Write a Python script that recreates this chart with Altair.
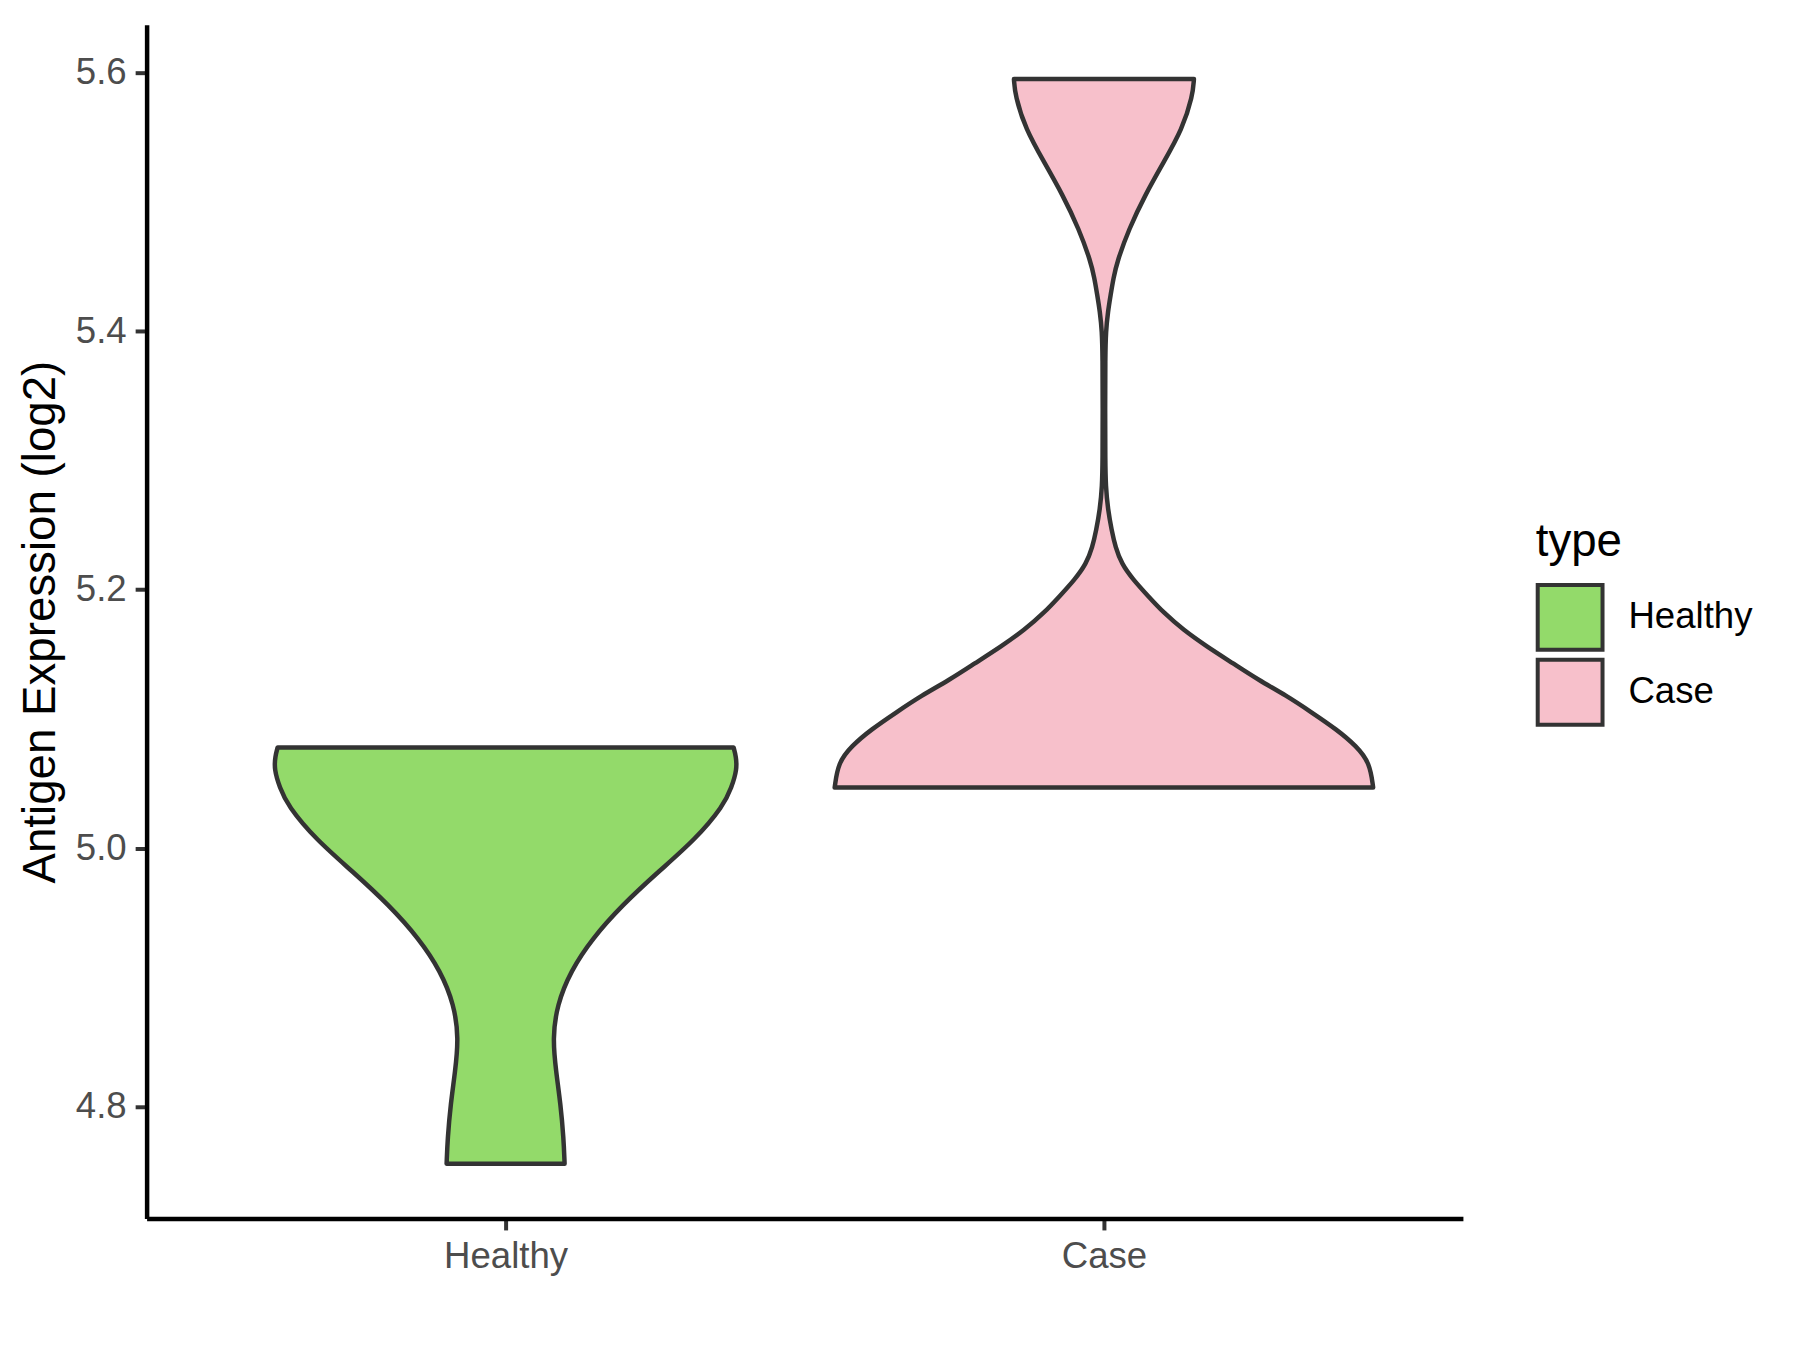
import altair as alt
import pandas as pd

# categories and colours
groups = ["Healthy", "Case"]
group_pos = [1, 2]
fill_colors = ["#93DA6A", "#F7C0CB"]

# violin outlines: expression level (log2) and half-width (density scaled)
healthy_y = [4.756, 4.776, 4.802, 4.827, 4.853, 4.879, 4.905, 4.930, 4.956,
             4.982, 5.007, 5.033, 5.047, 5.061, 5.071, 5.078]
healthy_hw = [0.0986, 0.0969, 0.0919, 0.0844, 0.0785, 0.0860, 0.1086, 0.1445,
              0.1947, 0.2556, 0.3175, 0.3642, 0.3776, 0.3868, 0.3851, 0.3810]

case_y = [5.047, 5.066, 5.079, 5.092, 5.105, 5.118, 5.130, 5.143, 5.156, 5.169,
          5.182, 5.195, 5.208, 5.220, 5.233, 5.246, 5.262, 5.280, 5.300, 5.340,
          5.380, 5.400, 5.415, 5.428, 5.441, 5.454, 5.479, 5.505, 5.531, 5.556,
          5.582, 5.595]
case_hw = [0.4500, 0.4444, 0.4222, 0.3888, 0.3475, 0.3053, 0.2590, 0.2160,
           0.1721, 0.1325, 0.1003, 0.0740, 0.0485, 0.0296, 0.0192, 0.0129,
           0.0067, 0.0030, 0.0022, 0.0020, 0.0022, 0.0033, 0.0067, 0.0112,
           0.0159, 0.0222, 0.0418, 0.0685, 0.1003, 0.1308, 0.1484, 0.1504]

y_ticks = [4.8, 5.0, 5.2, 5.4, 5.6]

rows = []
for name, pos, ys, hws in [("Healthy", 1, healthy_y, healthy_hw),
                           ("Case", 2, case_y, case_hw)]:
    for v, hw in zip(ys, hws):
        rows.append({"type": name, "value": v, "xl": pos - hw, "xr": pos + hw})
df = pd.DataFrame(rows)

FONT = "Liberation Sans"

chart = alt.Chart(df).mark_area(
    orient="horizontal", interpolate="basis",
    stroke="#333333", strokeWidth=4.5, strokeJoin="round", opacity=1
).encode(
    y=alt.Y("value:Q",
            scale=alt.Scale(domain=[4.7137, 5.6369], nice=False, zero=False),
            axis=alt.Axis(values=y_ticks, format=".1f", grid=False,
                          title="Antigen Expression (log2)",
                          titlePadding=11)),
    x=alt.X("xl:Q",
            scale=alt.Scale(domain=[0.4, 2.6], nice=False, zero=False),
            axis=alt.Axis(values=group_pos, grid=False, title=None,
                          labelExpr="datum.value == 1 ? 'Healthy' : 'Case'")),
    x2="xr:Q",
    color=alt.Color("type:N",
                    scale=alt.Scale(domain=groups, range=fill_colors),
                    legend=alt.Legend(
                        title="type", orient="none",
                        legendX=1393, legendY=497, padding=0,
                        titleFontSize=45.8, titleFont=FONT, titleColor="black",
                        titleFontWeight="normal", titlePadding=17,
                        labelFontSize=36.7, labelFont=FONT, labelColor="black",
                        labelOffset=24,
                        symbolType="square", symbolSize=4225,
                        symbolStrokeColor="#333333", symbolStrokeWidth=4,
                        symbolOpacity=1, rowPadding=-10)),
).properties(
    width=1320, height=1197,
    autosize=alt.AutoSizeParams(type="none"),
    padding={"left": 139, "top": 15, "right": 330, "bottom": 115},
).configure_view(
    stroke=None
).configure_axis(
    domainColor="black", domainWidth=4.5,
    tickColor="#333333", tickWidth=4, tickSize=11.5,
    labelFont=FONT, labelFontSize=36.7, labelColor="#4D4D4D", labelPadding=9,
    titleFont=FONT, titleFontSize=45.8, titleColor="black", titleFontWeight="normal",
)

chart.save("out.html", embed_options={"renderer": "svg", "actions": False})
